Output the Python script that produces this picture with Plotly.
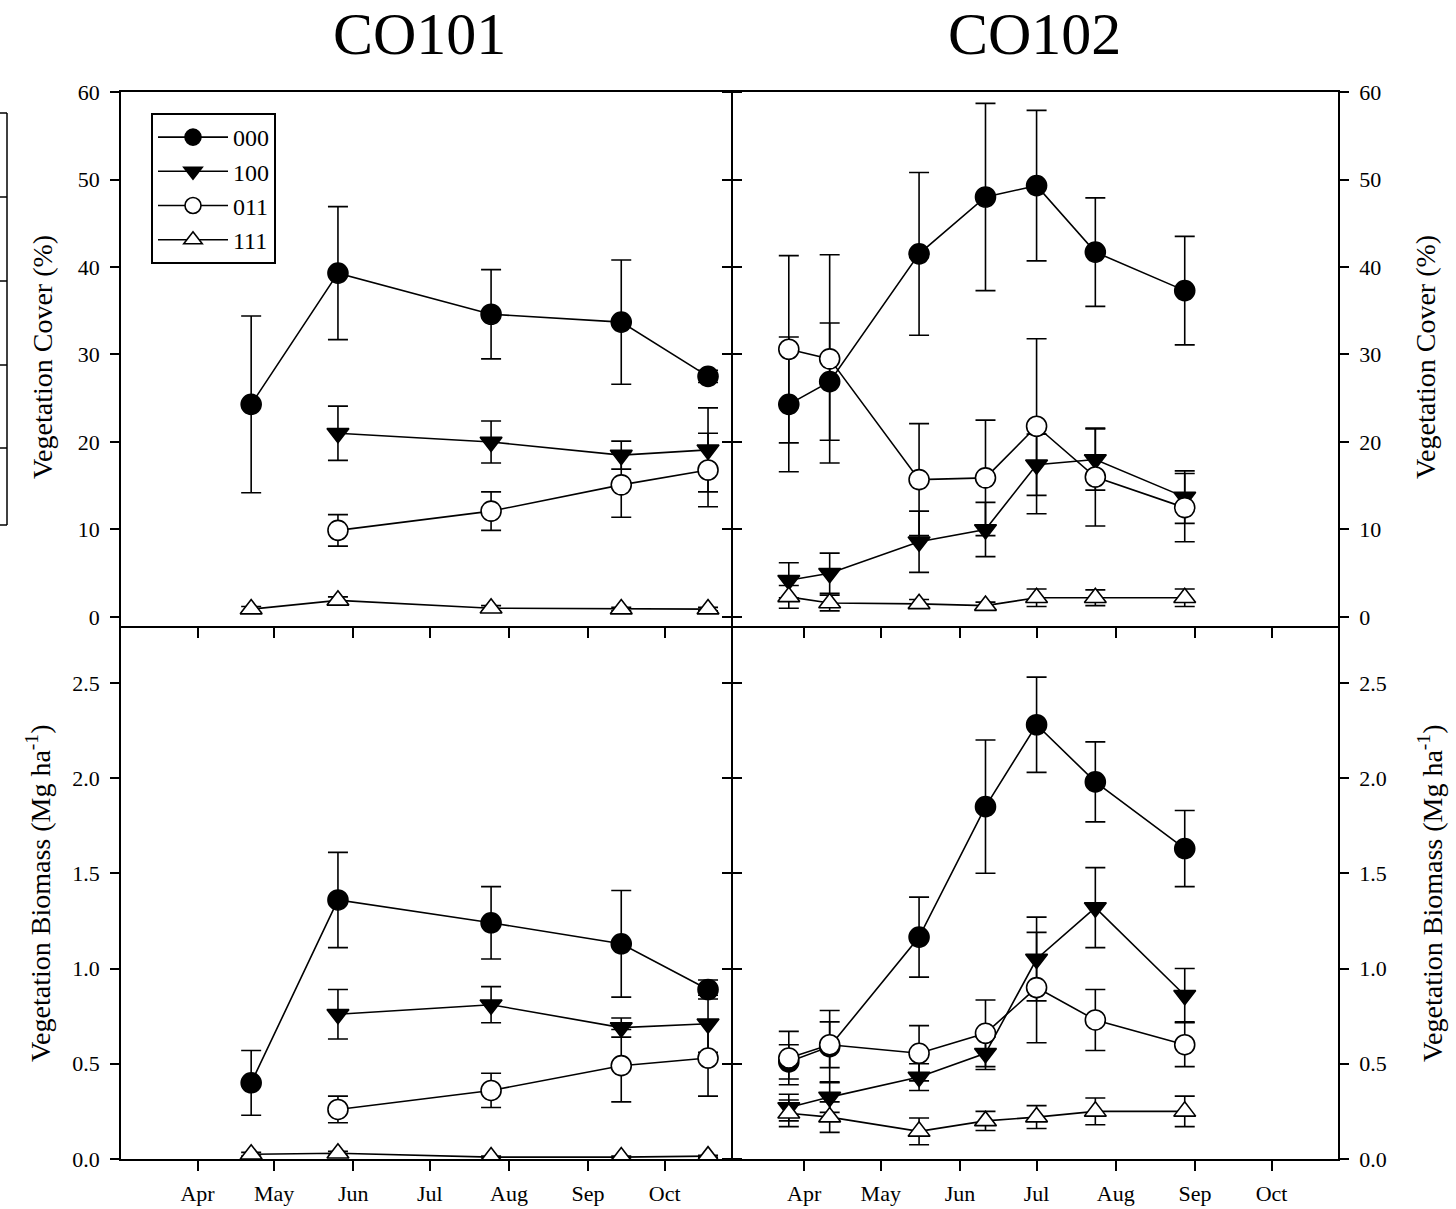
import plotly.graph_objects as go

# ---------------- data ----------------
series_names = ["000", "100", "011", "111"]

dates_co101 = ["2015-04-22", "2015-05-26", "2015-07-25", "2015-09-14", "2015-10-18"]
dates_co102 = ["2015-03-26", "2015-04-11", "2015-05-16", "2015-06-11",
               "2015-07-01", "2015-07-24", "2015-08-28"]

# CO101 vegetation cover (%)
co101_cover_000 = [24.3, 39.3, 34.6, 33.7, 27.5]
co101_cover_000_err = [10.1, 7.6, 5.1, 7.1, 0.7]
co101_cover_100 = [None, 21.0, 20.0, 18.5, 19.1]
co101_cover_100_err = [None, 3.1, 2.4, 1.6, 4.8]
co101_cover_011 = [None, 9.9, 12.1, 15.1, 16.8]
co101_cover_011_err = [None, 1.8, 2.2, 3.7, 4.2]
co101_cover_111 = [0.9, 1.9, 1.0, 0.9, 0.9]
co101_cover_111_err = [0.3, 0.4, 0.3, 0.2, 0.2]

# CO102 vegetation cover (%)
co102_cover_000 = [24.3, 26.9, 41.5, 48.0, 49.3, 41.7, 37.3]
co102_cover_000_err = [7.7, 6.7, 9.3, 10.7, 8.6, 6.2, 6.2]
co102_cover_100 = [4.2, 5.0, 8.6, 10.0, 17.4, 18.0, 13.7]
co102_cover_100_err = [2.0, 2.3, 3.5, 3.1, 3.5, 3.5, 3.0]
co102_cover_011 = [30.6, 29.5, 15.7, 15.9, 21.8, 16.0, 12.5]
co102_cover_011_err = [10.7, 11.9, 6.4, 6.6, 10.0, 5.6, 3.9]
co102_cover_111 = [2.3, 1.6, 1.5, 1.3, 2.2, 2.2, 2.2]
co102_cover_111_err = [1.3, 0.9, 0.5, 0.4, 1.0, 0.9, 1.0]

# CO101 vegetation biomass (Mg/ha)
co101_bio_000 = [0.40, 1.36, 1.24, 1.13, 0.89]
co101_bio_000_err = [0.17, 0.25, 0.19, 0.28, 0.05]
co101_bio_100 = [None, 0.76, 0.81, 0.69, 0.71]
co101_bio_100_err = [None, 0.13, 0.095, 0.05, 0.15]
co101_bio_011 = [None, 0.26, 0.36, 0.49, 0.53]
co101_bio_011_err = [None, 0.07, 0.09, 0.19, 0.20]
co101_bio_111 = [0.025, 0.03, 0.01, 0.01, 0.015]
co101_bio_111_err = [0.01, 0.01, 0.005, 0.005, 0.005]

# CO102 vegetation biomass (Mg/ha)
co102_bio_000 = [0.51, 0.59, 1.165, 1.85, 2.28, 1.98, 1.63]
co102_bio_000_err = [0.09, 0.19, 0.21, 0.35, 0.25, 0.21, 0.20]
co102_bio_100 = [0.27, 0.325, 0.43, 0.555, 1.05, 1.32, 0.86]
co102_bio_100_err = [0.07, 0.08, 0.07, 0.085, 0.22, 0.21, 0.14]
co102_bio_011 = [0.53, 0.60, 0.555, 0.66, 0.90, 0.73, 0.60]
co102_bio_011_err = [0.14, 0.12, 0.145, 0.175, 0.29, 0.16, 0.115]
co102_bio_111 = [0.24, 0.22, 0.145, 0.20, 0.22, 0.25, 0.25]
co102_bio_111_err = [0.07, 0.08, 0.07, 0.05, 0.06, 0.07, 0.08]

month_ticks = ["2015-04-01", "2015-05-01", "2015-06-01", "2015-07-01",
               "2015-08-01", "2015-09-01", "2015-10-01"]
month_labels = ["Apr", "May", "Jun", "Jul", "Aug", "Sep", "Oct"]
cover_ticks = [0, 10, 20, 30, 40, 50, 60]
bio_ticks = [0.0, 0.5, 1.0, 1.5, 2.0, 2.5]

# ---------------- styling ----------------
FONT = "Liberation Serif"
styles = {
    "000": dict(symbol="circle", color="black", size=20),
    "100": dict(symbol="triangle-down", color="black", size=19),
    "011": dict(symbol="circle", color="white", size=20),
    "111": dict(symbol="triangle-up", color="white", size=19),
}

panels = [
    ("x", "y", dates_co101, [co101_cover_000, co101_cover_100, co101_cover_011, co101_cover_111],
     [co101_cover_000_err, co101_cover_100_err, co101_cover_011_err, co101_cover_111_err], True),
    ("x2", "y2", dates_co102, [co102_cover_000, co102_cover_100, co102_cover_011, co102_cover_111],
     [co102_cover_000_err, co102_cover_100_err, co102_cover_011_err, co102_cover_111_err], False),
    ("x3", "y3", dates_co101, [co101_bio_000, co101_bio_100, co101_bio_011, co101_bio_111],
     [co101_bio_000_err, co101_bio_100_err, co101_bio_011_err, co101_bio_111_err], False),
    ("x4", "y4", dates_co102, [co102_bio_000, co102_bio_100, co102_bio_011, co102_bio_111],
     [co102_bio_000_err, co102_bio_100_err, co102_bio_011_err, co102_bio_111_err], False),
]

fig = go.Figure()
for xa, ya, dates, vals, errs, show in panels:
    for name, v, e in zip(series_names, vals, errs):
        st = styles[name]
        fig.add_trace(go.Scatter(
            x=dates, y=v, name=name, mode="lines+markers",
            xaxis=xa, yaxis=ya, showlegend=show,
            line=dict(color="black", width=1.6),
            marker=dict(symbol=st["symbol"], size=st["size"], color=st["color"],
                        line=dict(color="black", width=1.6)),
            error_y=dict(type="data", array=e, visible=True, color="black",
                         thickness=1.6, width=10),
        ))

L, R, T, B = 121, 118, 92, 50
W, H = 1456, 1209
pw = W - L - R
ph = H - T - B
LW = 1.6
# panel boundaries chosen so that the inner frame lines of adjacent panels coincide
x_left_end = (731 - L) / pw
x_right_start = (731 + LW - L) / pw
y_top_start = (H - B - 626) / ph
y_bottom_end = (H - B - 626 - LW) / ph

def xax(domain, rng, labels, anchor):
    return dict(domain=domain, type="date", range=rng, anchor=anchor,
                tickmode="array", tickvals=month_ticks, ticktext=month_labels,
                showticklabels=labels, ticks="outside", ticklen=10, tickwidth=1.6,
                tickcolor="black", showline=True, linecolor="black", linewidth=LW,
                mirror=True, showgrid=False, zeroline=False, automargin=False,
                tickfont=dict(family=FONT, size=22, color="black"),
                ticklabelstandoff=4)

def yax(domain, rng, ticks, side, fmt, anchor):
    return dict(domain=domain, range=rng, anchor=anchor, tickmode="array", tickvals=ticks,
                tickformat=fmt, side=side, ticks="outside", ticklen=9, tickwidth=1.6,
                tickcolor="black", showline=True, linecolor="black", linewidth=LW,
                mirror="ticks", showgrid=False, zeroline=False, automargin=False,
                tickfont=dict(family=FONT, size=22, color="black"),
                ticklabelstandoff=6)

left_range = ["2015-03-02", "2015-10-27"]
right_range = ["2015-03-04", "2015-10-27"]

fig.update_layout(
    width=W, height=H,
    margin=dict(l=L, r=R, t=T, b=B, autoexpand=False),
    paper_bgcolor="white", plot_bgcolor="white",
    font=dict(family=FONT, color="black"),
    xaxis=xax([0, x_left_end], left_range, False, "y"),
    xaxis2=xax([x_right_start, 1], right_range, False, "y2"),
    xaxis3=xax([0, x_left_end], left_range, True, "y3"),
    xaxis4=xax([x_right_start, 1], right_range, True, "y4"),
    yaxis=yax([y_top_start, 1], [-1.03, 60], cover_ticks, "left", "d", "x"),
    yaxis2=yax([y_top_start, 1], [-1.03, 60], cover_ticks, "right", "d", "x2"),
    yaxis3=yax([0, y_bottom_end], [0, 2.79], bio_ticks, "left", ".1f", "x3"),
    yaxis4=yax([0, y_bottom_end], [0, 2.79], bio_ticks, "right", ".1f", "x4"),
    legend=dict(x=(151 - L) / pw, y=(H - B - 113) / ph, xanchor="left", yanchor="top",
                bgcolor="white", bordercolor="black", borderwidth=2,
                font=dict(family=FONT, size=24, color="black"),
                tracegroupgap=0, itemwidth=70),
    showlegend=True,
)

def px_x(px):
    return (px - L) / pw

def px_y(py):
    return (H - B - py) / ph

annotations = [
    dict(text="CO101", x=px_x(419), y=px_y(34), font=dict(size=60)),
    dict(text="CO102", x=px_x(1034), y=px_y(34), font=dict(size=60)),
    dict(text="Vegetation Cover (%)", x=px_x(42), y=px_y(357), textangle=-90, font=dict(size=28)),
    dict(text="Vegetation Cover (%)", x=px_x(1425), y=px_y(357), textangle=-90, font=dict(size=28)),
    dict(text="Vegetation Biomass (Mg ha<sup>-1</sup>)", x=px_x(38), y=px_y(893), textangle=-90, font=dict(size=28)),
    dict(text="Vegetation Biomass (Mg ha<sup>-1</sup>)", x=px_x(1430), y=px_y(893), textangle=-90, font=dict(size=28)),
]
for a in annotations:
    a.update(xref="paper", yref="paper", showarrow=False, xanchor="center", yanchor="middle")
    a["font"].update(family=FONT, color="black")
fig.update_layout(annotations=annotations)

# cropped fragment of a neighbouring figure at the far left edge
shapes = [dict(type="line", xref="paper", yref="paper", x0=px_x(7), x1=px_x(7),
               y0=px_y(113), y1=px_y(525), line=dict(color="black", width=1.5))]
for ty in [113, 197, 281, 365, 448, 525]:
    shapes.append(dict(type="line", xref="paper", yref="paper", x0=px_x(0), x1=px_x(7),
                       y0=px_y(ty), y1=px_y(ty), line=dict(color="black", width=1.5)))
fig.update_layout(shapes=shapes)

fig.write_html("out.html")
